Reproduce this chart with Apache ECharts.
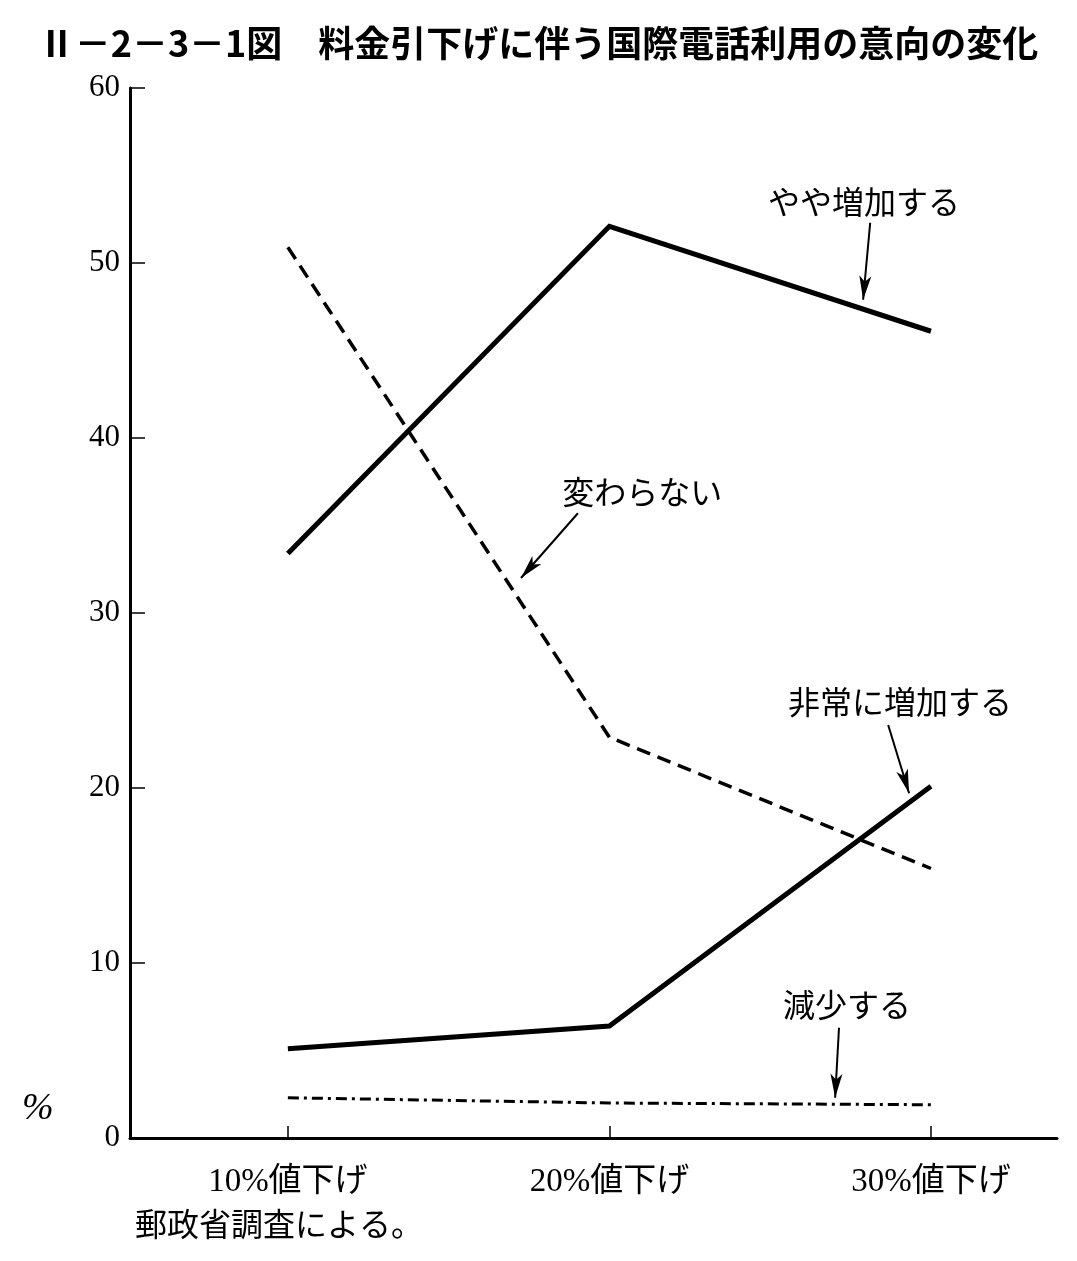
<!DOCTYPE html>
<html>
<head>
<meta charset="utf-8">
<script src="https://cdn.jsdelivr.net/npm/echarts@6/dist/echarts.min.js"></script>
<style>
  html, body { margin: 0; padding: 0; background: #fff; }
  #main { width: 1077px; height: 1261px; }
</style>
</head>
<body>
<div id="main"></div>
<script>
// 料金引下げに伴う国際電話利用の意向の変化
const categories = ['10%値下げ', '20%値下げ', '30%値下げ']
const xPos = [1, 2, 3]
const yayaZouka = [33.4, 52.1, 46.1]   // やや増加する
const kawaranai = [50.9, 22.9, 15.4]   // 変わらない
const hijouZouka = [5.1, 6.4, 20.1]    // 非常に増加する
const genshou = [2.3, 2.0, 1.9]        // 減少する
const yTicks = [0, 10, 20, 30, 40, 50, 60]

// 注記の位置（データ座標）
const noteNames = ['やや増加する', '変わらない', '非常に増加する', '減少する']
const notePos = [[2.792, 53.5], [2.102, 36.9], [2.904, 24.9], [2.739, 7.6]]
const arrowFrom = [[2.811, 52.3], [1.902, 35.7], [2.867, 23.6], [2.714, 6.3]]
const arrowTo = [[2.789, 47.9], [1.725, 32.0], [2.932, 19.7], [2.702, 2.3]]

const jp = 'Noto Sans CJK JP'
const serif = 'Liberation Serif'

function pts (vals) {
  return vals.map(function (v, i) { return [xPos[i], v] })
}

function note (i) {
  return {
    markLine: {
      silent: true,
      symbol: ['none', 'arrow'],
      symbolSize: [9, 24],
      lineStyle: { color: '#000', width: 2, type: 'solid' },
      label: { show: false },
      data: [[
        { coord: arrowFrom[i] },
        { coord: arrowTo[i] }
      ]]
    },
    markPoint: {
      silent: true,
      symbol: 'circle',
      symbolSize: 0,
      label: {
        show: true,
        position: 'inside',
        formatter: noteNames[i],
        color: '#000',
        fontSize: 32,
        fontFamily: jp
      },
      data: [{ coord: notePos[i] }]
    }
  }
}

function line (name, vals, width, type, i) {
  return Object.assign({
    name: name,
    type: 'line',
    data: pts(vals),
    symbol: 'none',
    lineStyle: { color: '#000', width: width, type: type, cap: 'butt', join: 'miter' },
    animation: false
  }, note(i))
}

const chart = echarts.init(document.getElementById('main'))
chart.setOption({
  backgroundColor: '#fff',
  animation: false,
  title: {
    text: 'Ⅱ－2－3－1図　料金引下げに伴う国際電話利用の意向の変化',
    left: 'center',
    top: 20,
    textStyle: { fontFamily: jp, fontSize: 36, fontWeight: 'bold', color: '#000' }
  },
  grid: { left: 130, right: 20, top: 88, bottom: 123 },
  xAxis: {
    type: 'value',
    min: 0.509,
    max: 3.392,
    splitLine: { show: false },
    axisLine: { lineStyle: { color: '#000', width: 3 } },
    axisTick: {
      show: true,
      inside: true,
      length: 12,
      customValues: xPos,
      lineStyle: { color: '#000', width: 1.5 }
    },
    axisLabel: {
      customValues: xPos,
      margin: 28,
      color: '#000',
      fontSize: 33,
      fontFamily: serif + ', ' + jp,
      formatter: function (v) { return categories[Math.round(v) - 1] }
    }
  },
  yAxis: {
    type: 'value',
    min: 0,
    max: 60,
    interval: 10,
    splitLine: { show: false },
    axisLine: { show: true, lineStyle: { color: '#000', width: 3 } },
    axisTick: { show: true, inside: true, length: 15, lineStyle: { color: '#000', width: 1.5 } },
    axisLabel: {
      margin: 10,
      color: '#000',
      fontSize: 31,
      fontFamily: serif,
      formatter: function (v) { return yTicks.indexOf(v) >= 0 ? String(v) : '' }
    }
  },
  graphic: [
    {
      type: 'text', left: 22, top: 1090,
      style: { text: '%', font: 'italic 38px ' + serif, fill: '#000' }
    },
    {
      type: 'text', left: 135, top: 1208,
      style: { text: '郵政省調査による。', font: '32px "' + jp + '"', fill: '#000' }
    }
  ],
  series: [
    line('やや増加する', yayaZouka, 5, 'solid', 0),
    line('変わらない', kawaranai, 3.5, [14, 8], 1),
    line('非常に増加する', hijouZouka, 5, 'solid', 2),
    line('減少する', genshou, 3, [11, 5, 3, 5], 3)
  ]
})
</script>
</body>
</html>
